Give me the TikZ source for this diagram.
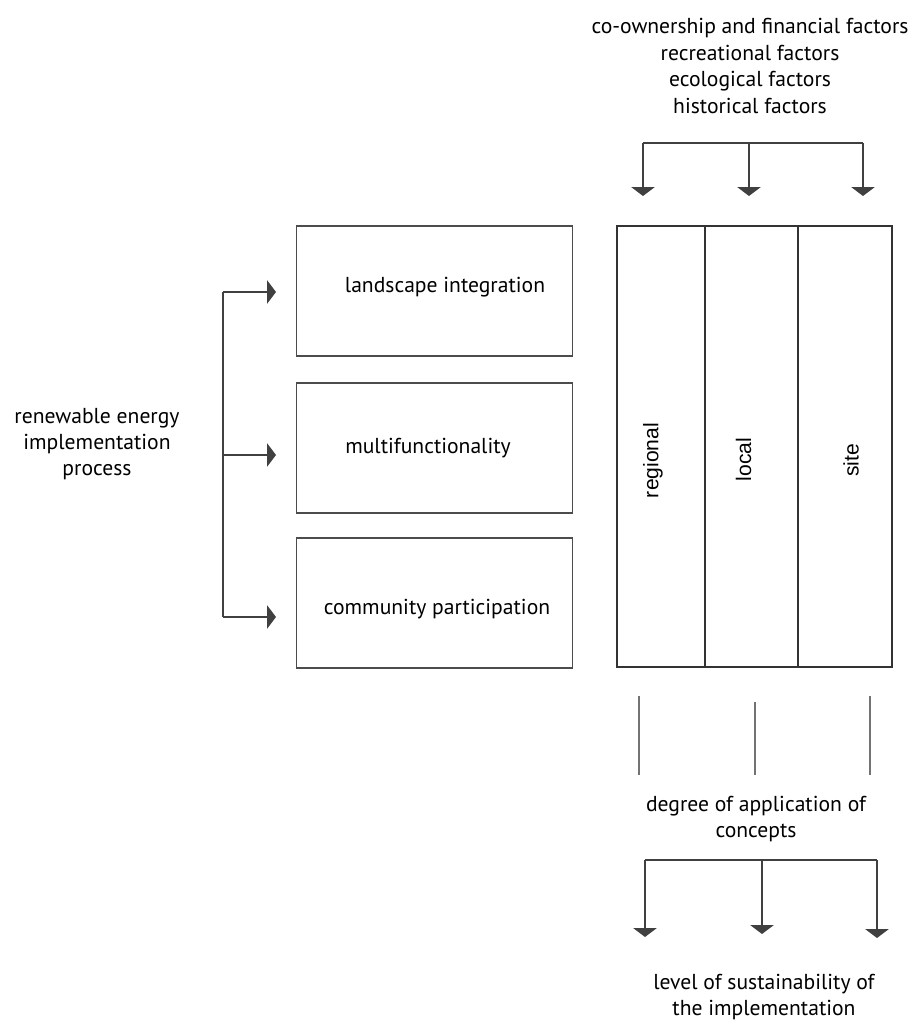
\documentclass[tikz,border=0pt]{standalone}
\usepackage{fontspec}
\setmainfont{PT Sans}
\newfontfamily\colfont{Liberation Sans}
\usepackage{tikz}
\usetikzlibrary{
    arrows.meta,
    calc,
    positioning
}

\begin{document}
\begin{tikzpicture}[
    x=0.02cm, y=-0.02cm,
    font=\fontsize{12.3}{15}\selectfont,
    line/.style={draw=black!75, line width=0.8pt},
    arrow/.style={line, -{Triangle[width=0.47cm, length=0.18cm]}},
    factorbox/.style={draw=black!70, line width=0.8pt, minimum width=5.52cm, minimum height=2.6cm, inner sep=0pt},
    scalebox/.style={draw=black!80, line width=0.8pt, minimum height=8.82cm, inner sep=0pt},
    scalelabel/.style={rotate=90, inner sep=0pt, font=\colfont\fontsize{12}{14}\selectfont},
    textblock/.style={align=center, inner sep=0pt},
    tick/.style={draw=black!55, line width=0.9pt}
]

\useasboundingbox (0,0) rectangle (914,1024);

% Influencing factors
\node[textblock] (factors) at (750,66) {co-ownership and financial factors\\recreational factors\\ecological factors\\historical factors};

% Concept boxes
\node[factorbox] (landscape) at (434.5,291) {};
\node[factorbox] (multi) at (434.5,448) {};
\node[factorbox] (community) at (434.5,603) {};

\node[textblock] (landscape-text) at ($(landscape.center)+(10.5,-3.5)$) {landscape integration};
\node[textblock] (multi-text) at ($(multi.center)+(-6.5,0)$) {multifunctionality};
\node[textblock] (community-text) at ($(community.center)+(2.5,6)$) {community participation};

% Scale columns
\node[scalebox, minimum width=1.76cm] (regional) at (661,446.5) {};
\node[scalebox, minimum width=1.86cm] (local) at (751.5,446.5) {};
\node[scalebox, minimum width=1.88cm] (site) at (845,446.5) {};

\node[scalelabel] (regional-text) at ($(regional.center)+(-8,14)$) {regional};
\node[scalelabel] (local-text) at ($(local.center)+(-8,13)$) {local};
\node[scalelabel] (site-text) at ($(site.center)+(6,14)$) {site};

% Process
\node[textblock] (process) at (97,444) {renewable energy\\implementation\\process};

% Arrows from factors to columns
\coordinate (topbar) at (749,143);
\foreach \x [count=\i] in {643,749,863} {
    \coordinate (fin-\i) at (\x,196);
}
\draw[line] (fin-1 |- topbar) -- (fin-3 |- topbar);
\foreach \i in {1,2,3} {
    \draw[arrow] (fin-\i |- topbar) -- (fin-\i);
}

% Arrows from process to concepts
\coordinate (leftbar) at (223,292);
\foreach \y [count=\i] in {292,455,617} {
    \coordinate (pin-\i) at (276,\y);
}
\draw[line] (leftbar |- pin-1) -- (leftbar |- pin-3);
\foreach \i in {1,2,3} {
    \draw[arrow] (leftbar |- pin-\i) -- (pin-\i);
}

% Degree of application
\foreach \x/\t [count=\i] in {639/696,755/702,870/696} {
    \coordinate (tt-\i) at (\x,\t);
    \coordinate (tb-\i) at (\x,775);
    \draw[tick] (tt-\i) -- (tb-\i);
}
\node[textblock] (degree) at (756,819) {degree of application of\\concepts};

% Arrows to sustainability
\coordinate (botbar) at (762,860);
\foreach \x/\t [count=\i] in {645/937,762/934,877/938} {
    \coordinate (sin-\i) at (\x,\t);
}
\draw[line] (sin-1 |- botbar) -- (sin-3 |- botbar);
\foreach \i in {1,2,3} {
    \draw[arrow] (sin-\i |- botbar) -- (sin-\i);
}

\node[textblock] (level) at (764,997) {level of sustainability of\\the implementation};

\end{tikzpicture}
\end{document}
